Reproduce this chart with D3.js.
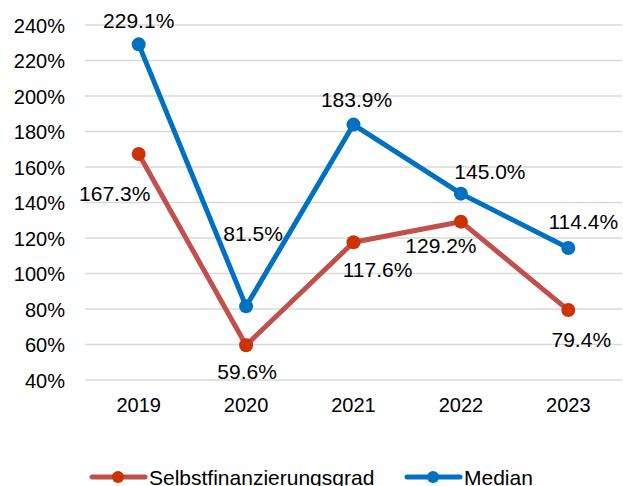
<!DOCTYPE html>
<html>
<head>
<meta charset="utf-8">
<script src="https://cdn.jsdelivr.net/npm/d3@7"></script>
<style>
  body { margin: 0; background: #fff; }
  text { font-family: "Liberation Sans", Arial, sans-serif; fill: #000; }
</style>
</head>
<body>
<div id="chart"></div>
<script>
// data
const years = ["2019", "2020", "2021", "2022", "2023"];
const selbst = [167.3, 59.6, 117.6, 129.2, 79.4];
const median = [229.1, 81.5, 183.9, 145.0, 114.4];
const yTicks = [40, 60, 80, 100, 120, 140, 160, 180, 200, 220, 240];

// label placement: offset of label centre from the point (px)
const selbstLabelPos = [[-24, 39], [1, 26], [24, 27], [-20, 24], [13, 29]];
const medianLabelPos = [[0, -24], [7, -73], [3, -25], [29, -22], [15, -27]];

const W = 623, H = 486;
const plot = { left: 85, right: 622, top: 25, bottom: 380 };

const svg = d3.select("#chart").append("svg")
    .attr("width", W)
    .attr("height", H);

const x = d3.scaleBand().domain(years).range([plot.left, plot.right]);
const y = d3.scaleLinear().domain([40, 240]).range([plot.bottom, plot.top]);
const cx = d => x(d) + x.bandwidth() / 2;

// gridlines
svg.append("g")
    .selectAll("line")
    .data(yTicks)
    .join("line")
    .attr("x1", plot.left)
    .attr("x2", plot.right)
    .attr("y1", d => y(d))
    .attr("y2", d => y(d))
    .attr("stroke", "#d9d9d9")
    .attr("stroke-width", 1.3);

// y axis labels
const yAxis = svg.append("g")
    .attr("transform", `translate(${plot.left},0)`)
    .call(d3.axisLeft(y).tickValues(yTicks).tickSize(0).tickPadding(20).tickFormat(d => d + "%"));
yAxis.select(".domain").remove();
yAxis.selectAll("text").style("font-size", "20px").attr("dy", "0.36em");

// x axis labels
const xAxis = svg.append("g")
    .attr("transform", `translate(0,${plot.bottom})`)
    .call(d3.axisBottom(x).tickSize(0).tickPadding(18));
xAxis.select(".domain").remove();
xAxis.selectAll("text").style("font-size", "20px");

const series = [
    { name: "Selbstfinanzierungsgrad", values: selbst, line: "#C0504D", dot: "#CC3300", pos: selbstLabelPos },
    { name: "Median", values: median, line: "#0070C0", dot: "#0070C0", pos: medianLabelPos }
];

const line = d3.line()
    .x((d, i) => cx(years[i]))
    .y(d => y(d));

series.forEach(s => {
    svg.append("path")
        .datum(s.values)
        .attr("fill", "none")
        .attr("stroke", s.line)
        .attr("stroke-width", 5)
        .attr("stroke-linejoin", "round")
        .attr("d", line);

    svg.append("g")
        .selectAll("circle")
        .data(s.values)
        .join("circle")
        .attr("cx", (d, i) => cx(years[i]))
        .attr("cy", d => y(d))
        .attr("r", 7)
        .attr("fill", s.dot);
});

series.forEach(s => {
    svg.append("g")
        .selectAll("text")
        .data(s.values)
        .join("text")
        .attr("x", (d, i) => cx(years[i]) + s.pos[i][0])
        .attr("y", (d, i) => y(d) + s.pos[i][1])
        .attr("dy", "0.36em")
        .attr("text-anchor", "middle")
        .style("font-size", "21px")
        .text(d => d.toFixed(1) + "%");
});

// legend
const legendItems = [
    { s: series[0], x: 92 },
    { s: series[1], x: 407 }
];
const ly = 477;
legendItems.forEach(l => {
    const g = svg.append("g").attr("transform", `translate(${l.x},${ly})`);
    g.append("line")
        .attr("x1", 0).attr("x2", 53)
        .attr("stroke", l.s.line)
        .attr("stroke-width", 5)
        .attr("stroke-linecap", "round");
    g.append("circle")
        .attr("cx", 26)
        .attr("r", 6)
        .attr("fill", l.s.dot);
    g.append("text")
        .attr("x", 57)
        .attr("y", 0)
        .attr("dy", "0.36em")
        .style("font-size", "21px")
        .text(l.s.name);
});
</script>
</body>
</html>
